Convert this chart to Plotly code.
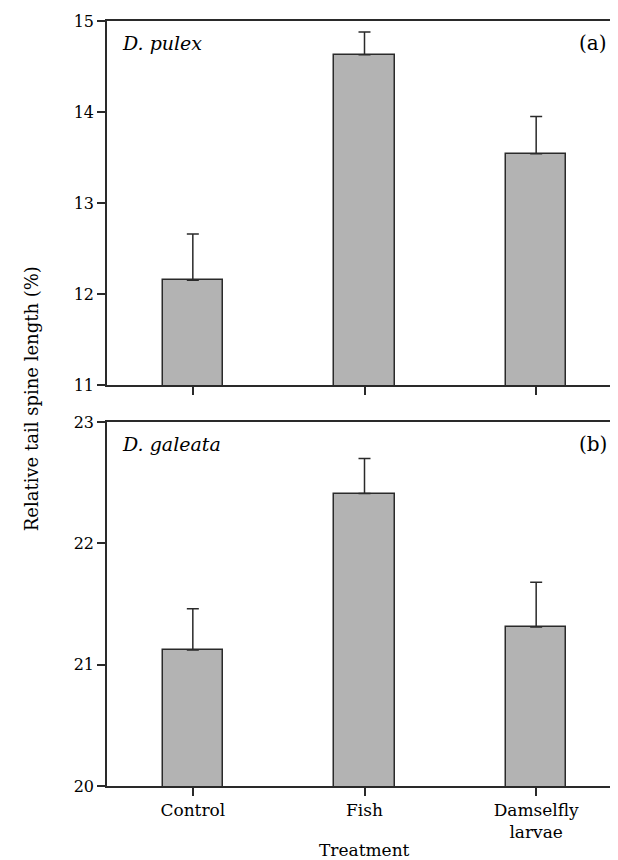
import plotly.graph_objects as go

categories = ["Control", "Fish", "Damselfly<br>larvae"]
pulex_mean = [12.15, 14.63, 13.54]
pulex_err = [0.51, 0.25, 0.41]
galeata_mean = [21.12, 22.41, 21.31]
galeata_err = [0.34, 0.29, 0.37]
pulex_ticks = [11, 12, 13, 14, 15]
galeata_ticks = [20, 21, 22, 23]

FONT = "DejaVu Serif"
BAR = "#b3b3b3"
LINE = "#2a2a2a"
x_idx = [0, 1, 2]

fig = go.Figure()
for mean, err, xa, ya in [(pulex_mean, pulex_err, "x", "y"), (galeata_mean, galeata_err, "x2", "y2")]:
    fig.add_trace(go.Bar(
        x=x_idx, y=mean, xaxis=xa, yaxis=ya, width=0.351,
        marker=dict(color=BAR, line=dict(color=LINE, width=1.5)),
        error_y=dict(type="data", array=err, arrayminus=[0, 0, 0], symmetric=False,
                     color=LINE, thickness=1.5, width=6),
        showlegend=False,
    ))

axis_common = dict(showline=True, linecolor=LINE, linewidth=1.5, mirror=True,
                   ticks="outside", ticklen=8, tickcolor=LINE, tickwidth=1.5,
                   showgrid=False, zeroline=False)
yfont = dict(family=FONT, size=16, color="black")
xfont = dict(family=FONT, size=17, color="black")

fig.update_layout(
    width=618, height=860,
    margin=dict(l=99, r=2, t=13, b=82),
    plot_bgcolor="white", paper_bgcolor="white",
    bargap=0,
    xaxis=dict(domain=[0, 1], anchor="y", range=[-0.5, 2.5], tickvals=x_idx,
               showticklabels=False, **axis_common),
    yaxis=dict(domain=[0.5242, 1], anchor="x", range=[11, 15], tickvals=pulex_ticks,
               tickfont=yfont, **axis_common),
    xaxis2=dict(domain=[0, 1], anchor="y2", range=[-0.5, 2.5], tickvals=x_idx,
                ticktext=categories, tickfont=xfont, ticklabelstandoff=0, **axis_common),
    yaxis2=dict(domain=[0, 0.4758], anchor="x2", range=[20, 23], tickvals=galeata_ticks,
                tickfont=yfont, **axis_common),
    annotations=[
        dict(text="<i>D. pulex</i>", xref="paper", yref="paper", x=0.025, y=0.971,
             xanchor="left", yanchor="middle", showarrow=False,
             font=dict(family=FONT, size=19, color="black")),
        dict(text="(a)", xref="paper", yref="paper", x=0.975, y=0.971,
             xanchor="right", yanchor="middle", showarrow=False,
             font=dict(family=FONT, size=20, color="black")),
        dict(text="<i>D. galeata</i>", xref="paper", yref="paper", x=0.025, y=0.447,
             xanchor="left", yanchor="middle", showarrow=False,
             font=dict(family=FONT, size=19, color="black")),
        dict(text="(b)", xref="paper", yref="paper", x=0.975, y=0.447,
             xanchor="right", yanchor="middle", showarrow=False,
             font=dict(family=FONT, size=20, color="black")),
        dict(text="Relative tail spine length (%)", xref="paper", yref="paper",
             x=-0.145, y=0.506, xanchor="center", yanchor="middle", textangle=-90,
             showarrow=False, font=dict(family=FONT, size=18, color="black")),
        dict(text="Treatment", xref="paper", yref="paper", x=0.5, y=-0.0837,
             xanchor="center", yanchor="middle", showarrow=False,
             font=dict(family=FONT, size=17, color="black")),
    ],
)

fig.write_html("out.html")
